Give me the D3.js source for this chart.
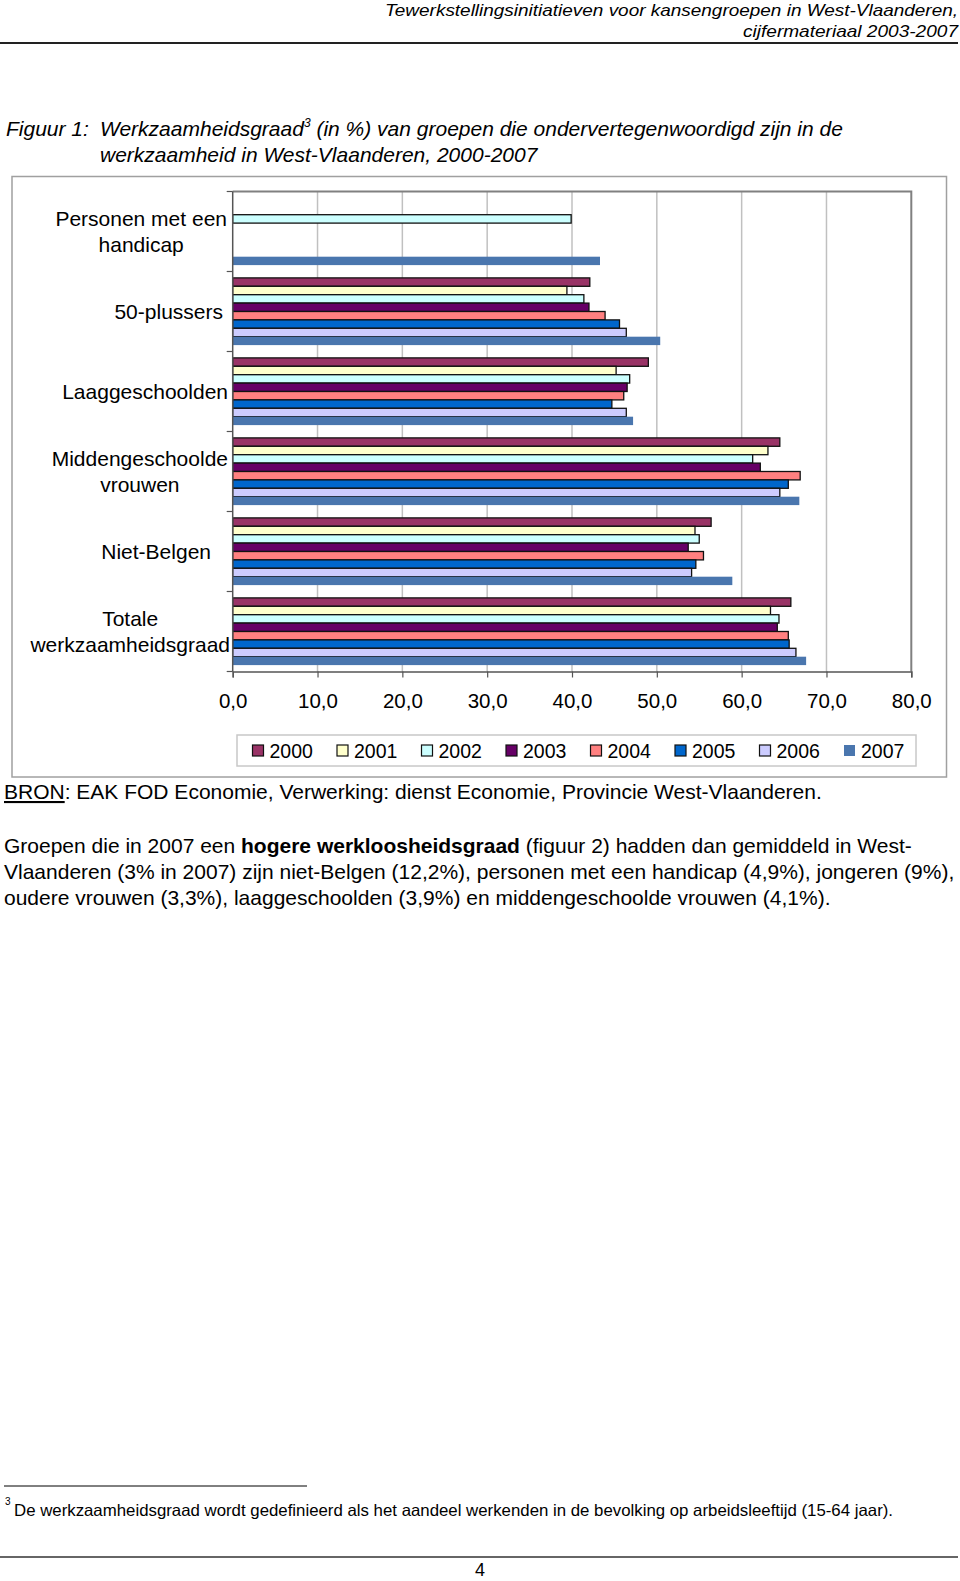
<!DOCTYPE html>
<html>
<head>
<meta charset="utf-8">
<script src="https://cdn.jsdelivr.net/npm/d3@7"></script>
<style>
  html, body { margin: 0; padding: 0; background: #fff; }
  svg { display: block; }
  text { font-family: "Liberation Sans", Arial, Helvetica, sans-serif; fill: #000; }
</style>
</head>
<body>
<svg id="page" width="960" height="1581"></svg>
<script>
// ---------- DATA ----------
const categories = ["Personen met een handicap", "50-plussers", "Laaggeschoolden",
  "Middengeschoolde vrouwen", "Niet-Belgen", "Totale werkzaamheidsgraad"];
const categoryLines = [["Personen met een", "handicap"], ["50-plussers"], ["Laaggeschoolden"],
  ["Middengeschoolde", "vrouwen"], ["Niet-Belgen"], ["Totale", "werkzaamheidsgraad"]];
const years = ["2000", "2001", "2002", "2003", "2004", "2005", "2006", "2007"];
const v2000 = [null, 42.1, 49.0, 64.5, 56.4, 65.8];
const v2001 = [null, 39.4, 45.2, 63.1, 54.5, 63.4];
const v2002 = [39.9, 41.4, 46.8, 61.3, 55.0, 64.4];
const v2003 = [null, 42.0, 46.5, 62.2, 53.7, 64.2];
const v2004 = [null, 43.9, 46.1, 66.9, 55.5, 65.5];
const v2005 = [null, 45.6, 44.7, 65.5, 54.6, 65.6];
const v2006 = [null, 46.4, 46.4, 64.5, 54.1, 66.4];
const v2007 = [43.3, 50.4, 47.2, 66.8, 58.9, 67.6];
const seriesValues = [v2000, v2001, v2002, v2003, v2004, v2005, v2006, v2007];
const xTicks = [0, 10, 20, 30, 40, 50, 60, 70, 80];
const xTickLabels = ["0,0", "10,0", "20,0", "30,0", "40,0", "50,0", "60,0", "70,0", "80,0"];

// ---------- STYLE / LAYOUT ----------
const colors = ["#993366", "#FFFFCC", "#CCFFFF", "#660066", "#FF8080", "#0066CC", "#CCCCFF", "#4A76AE"];
const bordered = [true, true, true, true, true, true, true, false];
const labelRightEdge = [227, 223, 228, 228, 211, 230];

const svg = d3.select("#page");

// Header
const hdr = svg.append("g").attr("font-style", "italic");
hdr.append("text").attr("x", 958).attr("y", 16).attr("text-anchor", "end")
  .attr("font-size", 17).attr("textLength", 573).attr("lengthAdjust", "spacingAndGlyphs")
  .text("Tewerkstellingsinitiatieven voor kansengroepen in West-Vlaanderen,");
hdr.append("text").attr("x", 958).attr("y", 37).attr("text-anchor", "end")
  .attr("font-size", 17).attr("textLength", 215).attr("lengthAdjust", "spacingAndGlyphs")
  .text("cijfermateriaal 2003-2007");
svg.append("line").attr("x1", 0).attr("x2", 958).attr("y1", 43).attr("y2", 43)
  .attr("stroke", "#222").attr("stroke-width", 2);

// Title
const tfs = 21;
const t1 = svg.append("text").attr("x", 6).attr("y", 135.5).attr("font-size", tfs).attr("font-style", "italic");
t1.append("tspan").text("Figuur 1:");
t1.append("tspan").attr("x", 100).text("Werkzaamheidsgraad");
t1.append("tspan").attr("dy", -9).attr("font-size", 12).text("3");
t1.append("tspan").attr("dy", 9).text(" (in %) van groepen die ondervertegenwoordigd zijn in de");
svg.append("text").attr("x", 100).attr("y", 161.5).attr("font-size", tfs).attr("font-style", "italic")
  .text("werkzaamheid in West-Vlaanderen, 2000-2007");

// Chart frame
svg.append("rect").attr("x", 12).attr("y", 176.5).attr("width", 934.5).attr("height", 600.5)
  .attr("fill", "#fff").attr("stroke", "#A0A0A0").attr("stroke-width", 1.5);

const plot = { left: 232.7, right: 911.3, top: 191.5, bottom: 671.5 };
const x = d3.scaleLinear().domain([0, 80]).range([plot.left, plot.right]);
const y = d3.scaleBand().domain(categories).range([plot.top, plot.bottom])
  .paddingInner(0.16).paddingOuter(0.08);
const yInner = d3.scaleBand().domain(years).range([0, y.bandwidth()]);

// gridlines
svg.append("g").selectAll("line").data(xTicks.filter(d => d > 0 && d < 80)).join("line")
  .attr("x1", d => x(d)).attr("x2", d => x(d)).attr("y1", plot.top).attr("y2", plot.bottom)
  .attr("stroke", "#C0C0C0").attr("stroke-width", 1.5);

// plot border (top and right)
svg.append("path")
  .attr("d", `M${plot.left},${plot.top}H${plot.right}V${plot.bottom}`)
  .attr("fill", "none").attr("stroke", "#808080").attr("stroke-width", 2);

// bars
const bars = svg.append("g");
years.forEach((yr, i) => {
  const rows = categories.map((c, j) => ({ c, v: seriesValues[i][j] })).filter(d => d.v != null);
  bars.selectAll(null).data(rows).join("rect")
    .attr("x", x(0))
    .attr("y", d => y(d.c) + yInner(yr))
    .attr("width", d => x(d.v) - x(0))
    .attr("height", yInner.bandwidth())
    .attr("fill", colors[i])
    .attr("stroke", bordered[i] ? "#111" : "none")
    .attr("stroke-width", bordered[i] ? 1.3 : 0);
});

// category axis (left) with ticks at band boundaries
const boundaries = d3.range(categories.length + 1).map(k => plot.top + k * (plot.bottom - plot.top) / categories.length);
const ax = svg.append("g");
ax.append("line").attr("x1", plot.left).attr("x2", plot.left).attr("y1", plot.top).attr("y2", plot.bottom)
  .attr("stroke", "#555").attr("stroke-width", 1.5);
ax.selectAll(".tk").data(boundaries).join("line")
  .attr("x1", plot.left - 6).attr("x2", plot.left).attr("y1", d => d).attr("y2", d => d)
  .attr("stroke", "#555").attr("stroke-width", 1.2);

// category labels
categories.forEach((c, j) => {
  const lines = categoryLines[j];
  const cy = y(c) + y.bandwidth() / 2;
  const lh = 26;
  const g = svg.append("g");
  const texts = lines.map((ln, k) => g.append("text")
    .attr("y", cy + (k - (lines.length - 1) / 2) * lh + 7.5)
    .attr("font-size", 21).attr("text-anchor", "middle").attr("fill", "#222").text(ln));
  const w = d3.max(texts, t => t.node().getComputedTextLength());
  texts.forEach(t => t.attr("x", labelRightEdge[j] - w / 2));
});

// value axis (bottom)
const xAxis = d3.axisBottom(x).tickValues(xTicks).tickSize(6).tickFormat((d, i) => xTickLabels[i]);
const xg = svg.append("g").attr("transform", `translate(0,${plot.bottom})`).call(xAxis);
xg.select(".domain").attr("stroke", "#555").attr("stroke-width", 1.5);
xg.selectAll(".tick line").attr("stroke", "#555").attr("stroke-width", 1.2);
xg.selectAll(".tick text").attr("font-size", 20.5).attr("fill", "#222")
  .attr("font-family", "'Liberation Sans', Arial, sans-serif").attr("dy", 0).attr("y", 36);

// legend
svg.append("rect").attr("x", 237).attr("y", 735).attr("width", 679).attr("height", 31)
  .attr("fill", "#fff").attr("stroke", "#C8C8C8").attr("stroke-width", 1.5);
const lg = svg.append("g");
years.forEach((yr, i) => {
  const lx = 252.5 + i * 84.5;
  lg.append("rect").attr("x", lx).attr("y", 745).attr("width", 11).attr("height", 11)
    .attr("fill", colors[i]).attr("stroke", bordered[i] ? "#111" : "none").attr("stroke-width", 1.2);
  lg.append("text").attr("x", lx + 17).attr("y", 757.5).attr("font-size", 19.5).attr("fill", "#222").text(yr);
});

// source
const src = svg.append("text").attr("x", 4).attr("y", 799).attr("font-size", 21);
src.append("tspan").attr("text-decoration", "underline").text("BRON");
src.append("tspan").text(": EAK FOD Economie, Verwerking: dienst Economie, Provincie West-Vlaanderen.");

// paragraph
const pfs = 21;
const p1 = svg.append("text").attr("x", 4).attr("y", 853).attr("font-size", pfs);
p1.append("tspan").text("Groepen die in 2007 een ");
p1.append("tspan").attr("font-weight", "bold").text("hogere werkloosheidsgraad");
p1.append("tspan").text(" (figuur 2) hadden dan gemiddeld in West-");
svg.append("text").attr("x", 4).attr("y", 879.2).attr("font-size", pfs)
  .text("Vlaanderen (3% in 2007) zijn niet-Belgen (12,2%), personen met een handicap (4,9%), jongeren (9%),");
svg.append("text").attr("x", 4).attr("y", 905.4).attr("font-size", pfs)
  .text("oudere vrouwen (3,3%), laaggeschoolden (3,9%) en middengeschoolde vrouwen (4,1%).");

// footnote
svg.append("line").attr("x1", 4).attr("x2", 307).attr("y1", 1486).attr("y2", 1486)
  .attr("stroke", "#000").attr("stroke-width", 1);
svg.append("text").attr("x", 5).attr("y", 1505).attr("font-size", 10).text("3");
svg.append("text").attr("x", 14).attr("y", 1516).attr("font-size", 16.5)
  .attr("textLength", 879).attr("lengthAdjust", "spacingAndGlyphs")
  .text("De werkzaamheidsgraad wordt gedefinieerd als het aandeel werkenden in de bevolking op arbeidsleeftijd (15-64 jaar).");

// page footer
svg.append("line").attr("x1", 0).attr("x2", 958).attr("y1", 1557).attr("y2", 1557)
  .attr("stroke", "#333").attr("stroke-width", 1.5);
svg.append("text").attr("x", 480).attr("y", 1576).attr("font-size", 18).attr("text-anchor", "middle")
  .attr("textLength", 10).attr("lengthAdjust", "spacingAndGlyphs").text("4");
</script>
</body>
</html>
